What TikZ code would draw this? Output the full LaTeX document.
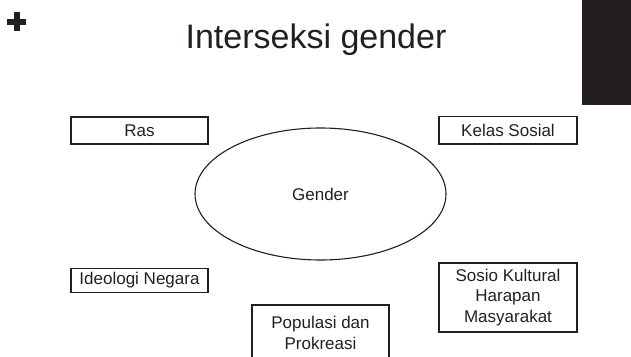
\documentclass[tikz,border=0pt]{standalone}
\usepackage{fontspec}
\setmainfont{Liberation Sans}
\usetikzlibrary{shapes.geometric}
\definecolor{ink}{HTML}{231F20}
\begin{document}
\begin{tikzpicture}[x=1pt,y=-1pt,
        factor/.style={draw=ink,line width=1.4pt,text=ink,minimum width=137pt,inner sep=0pt,align=center,font=\fontsize{17}{20.5}\selectfont},
        core/.style={draw=ink,line width=1.1pt,ellipse,text=ink,minimum width=251pt,minimum height=132pt,inner sep=0pt,font=\fontsize{17}{20.5}\selectfont}]
                \useasboundingbox (0,0) rectangle (631,356);
                \fill[ink] (582,0) rectangle (631,105);
                \fill[ink] (7,18.7) rectangle (26,24.7); \fill[ink] (14,12) rectangle (19.5,30.7);
                \node[text=ink,font=\fontsize{34}{40}\selectfont,anchor=base] (title) at (316,48) {Interseksi gender};

                \node[core] (gender) at (320.5,194) {Gender};
                \node[factor,minimum height=27pt] (ras) at (139.5,130.5) {Ras};
                \node[factor,minimum height=27.5pt,minimum width=138pt] (kelas) at (508,130.3) {Kelas Sosial};
                \node[factor,minimum height=24pt] (ideologi) at (139.5,280.3) {Ideologi Negara};
                \node[factor,minimum height=56pt] (populasi) at (320.5,333) {Populasi dan\\Prokreasi};
                \node[factor,minimum height=69pt,minimum width=138pt] (sosio) at (508,297.5) {Sosio Kultural\\Harapan\\Masyarakat};
            \end{tikzpicture}
\end{document}
